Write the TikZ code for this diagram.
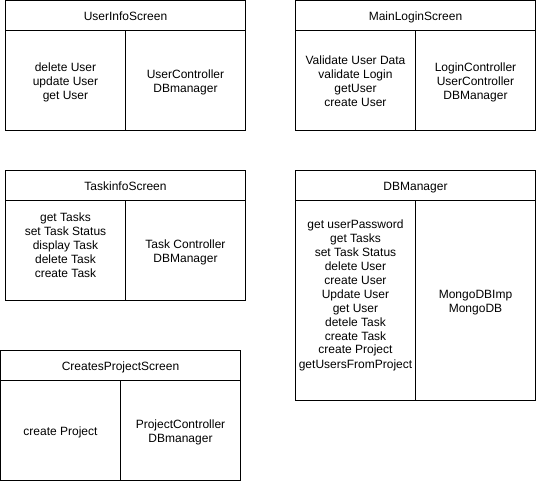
\documentclass[tikz,border=0pt]{standalone}
\usepackage{fontspec}
\setmainfont{Liberation Sans}
\usetikzlibrary{positioning}
\tikzset{
  screenhead/.style={draw, line width=1pt, outer sep=0pt, inner sep=0pt,
    minimum width=240pt, minimum height=30pt, align=center, anchor=north west,
    font=\fontsize{12}{14}\selectfont},
  screencell/.style={draw, line width=1pt, outer sep=0pt, inner sep=0pt,
    minimum width=120pt, align=center, anchor=north west,
    font=\fontsize{12}{14}\selectfont}
}
\newcommand{\myscreen}[6]
{
\node[screenhead] (#1) at (#2) {\rule{0pt}{13pt}#3\rule[-3pt]{0pt}{3pt}};
\node[screencell, minimum height=#4, below=0pt of #1.south west, anchor=north west] (#1ops) {\rule{0pt}{13pt}#5\rule[-3pt]{0pt}{3pt}};
\node[screencell, minimum height=#4, right=0pt of #1ops.north east, anchor=north west] (#1uses) {\rule{0pt}{13pt}#6\rule[-3pt]{0pt}{3pt}};
}

\begin{document}
\begin{tikzpicture}[x=1pt, y=-1pt]
  \useasboundingbox (0,0) rectangle (536,481);

  \myscreen{userinfo}{5.5,0.5}{UserInfoScreen}{100pt}
    {delete User\\update User\\get User}{UserController\\DBmanager}

  \myscreen{mainlogin}{295.5,0.5}{MainLoginScreen}{100pt}
    {Validate User Data\\validate Login\\getUser\\create User}{LoginController\\UserController\\DBManager}

  \myscreen{taskinfo}{5.5,170.5}{TaskinfoScreen}{100pt}
    {get Tasks\\set Task Status\\display Task\\delete Task\\create Task\rule[-15pt]{0pt}{15pt}}{Task Controller\\DBManager}

  \myscreen{dbmanager}{295.5,170.5}{DBManager}{200pt}
    {get userPassword\\get Tasks\\set Task Status\\delete User\\create User\\Update User\\get User\\detele Task\\create Task\\create Project\\getUsersFromProject\rule[-18pt]{0pt}{18pt}}{MongoDBImp\\MongoDB}

  \myscreen{createsproject}{0.5,350.5}{CreatesProjectScreen}{100pt}
    {create Project}{ProjectController\\DBmanager}
\end{tikzpicture}
\end{document}
